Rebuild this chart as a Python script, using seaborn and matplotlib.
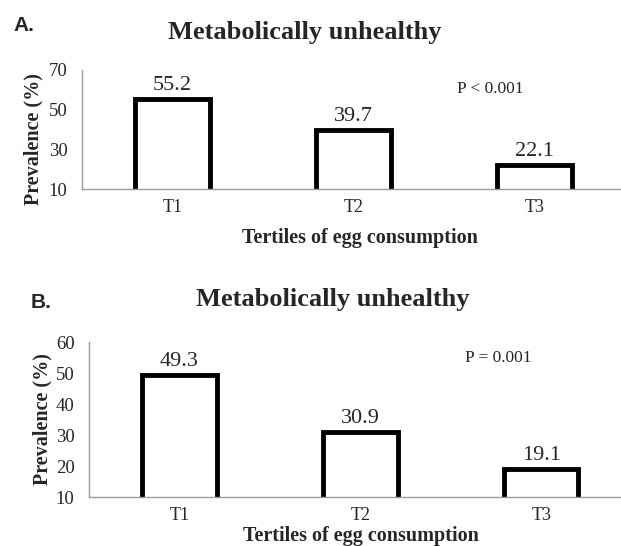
import seaborn as sns
import matplotlib.pyplot as plt
from matplotlib.ticker import FixedLocator

tertiles = ["T1", "T2", "T3"]
prev_a = [55.2, 39.7, 22.1]
prev_b = [49.3, 30.9, 19.1]
yticks_a = [10, 30, 50, 70]
yticks_b = [10, 20, 30, 40, 50, 60]

sns.set_style("white")
plt.rcParams['font.family'] = ['Liberation Serif', 'DejaVu Serif']

fig = plt.figure(figsize=(6.21, 5.46), dpi=100)
ax_a = fig.add_axes([0.132, 0.6538, 0.868, 0.218])
ax_b = fig.add_axes([0.1433, 0.0897, 0.8567, 0.2839])

panels = [
    # axes, values, y ticks, p text, p pos, xmax, tag, tag pos, title pos, ylabel pos, xlabel pos
    (ax_a, prev_a, yticks_a, "P < 0.001", (0.757, 0.84), 2.478, "A.", (0.021, 0.953),
     (0.49, 0.94), (-0.072, 0.416), (0.516, -0.33)),
    (ax_b, prev_b, yticks_b, "P = 0.001", (0.77, 0.90), 2.44, "B.", (0.050, 0.446),
     (0.536, 0.451), (-0.0695, 0.5), (0.511, -0.19)),
]

for ax, vals, yt, ptxt, ppos, xmax, tag, tpos, tipos, ylpos, xlpos in panels:
    sns.barplot(x=tertiles, y=vals, ax=ax, color="white", edgecolor="black",
                linewidth=3.5, width=0.41, saturation=1)
    ax.set_ylim(yt[0], yt[-1])
    ax.set_yticks(yt)
    ax.set_xlim(-0.5, xmax)
    ax.xaxis.set_minor_locator(FixedLocator([-0.5, 0.5, 1.5, 2.5]))
    ax.tick_params(axis="x", which="major", length=0, labelsize=13, pad=7)
    ax.tick_params(axis="x", which="minor", length=4, color="#888888", width=1,
                   direction="out")
    ax.tick_params(axis="y", length=3.5, color="#888888", labelsize=13.5, pad=7,
                   direction="out")
    for s in ["top", "right"]:
        ax.spines[s].set_visible(False)
    for s in ["left", "bottom"]:
        ax.spines[s].set_color("#999999")
        ax.spines[s].set_linewidth(1)
    ax.bar_label(ax.containers[0], labels=[f"{v:.1f}" for v in vals],
                 fontsize=16, padding=3)
    ax.set_ylabel("Prevalence (%)", fontsize=14.5, fontweight="bold")
    ax.yaxis.set_label_coords(*ylpos)
    ax.set_xlabel("Tertiles of egg consumption", fontsize=14.5, fontweight="bold")
    ax.xaxis.set_label_coords(*xlpos)
    ax.text(ppos[0], ppos[1], ptxt, transform=ax.transAxes, fontsize=12.5,
            ha="center", va="center")
    fig.text(tipos[0], tipos[1], "Metabolically unhealthy", fontsize=19,
             fontweight="bold", ha="center", va="center")
    fig.text(tpos[0], tpos[1], tag, fontsize=15, fontweight="bold",
             family=["Liberation Sans", "DejaVu Sans"], va="center")

fig.savefig("out.png", dpi=100)
